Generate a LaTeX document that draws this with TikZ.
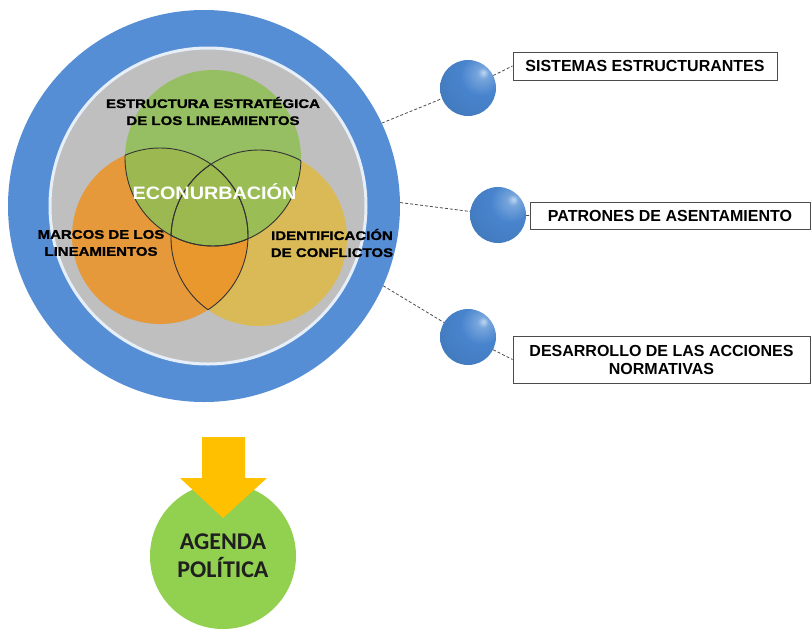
\documentclass[tikz,border=0pt]{standalone}
\usepackage{fontspec}
\setmainfont{Liberation Sans}
\newfontfamily\calibri{Carlito}
\newfontfamily\widefont[FakeStretch=1.2, FakeBold=1.2]{Liberation Sans}
\newfontfamily\midwidefont[FakeStretch=1.1]{Liberation Sans}
\usepackage{xcolor}
\usepackage{tikz}
\usetikzlibrary{positioning}

\definecolor{ringblue}{RGB}{85,142,213}
\definecolor{innergray}{RGB}{191,191,191}
\definecolor{venngreen}{RGB}{145,190,85}
\definecolor{vennorange}{RGB}{236,148,40}
\definecolor{vennyellow}{RGB}{222,186,72}
\definecolor{sphmain}{RGB}{72,132,205}
\definecolor{sphhigh}{RGB}{190,215,242}
\definecolor{arrowgold}{RGB}{255,192,0}
\definecolor{agendagreen}{RGB}{146,208,80}

\pgfdeclareradialshading{sphere}{\pgfpoint{14bp}{14bp}}{%
  color(0bp)=(sphhigh); color(5bp)=(sphmain!60!sphhigh); color(18bp)=(sphmain);
  color(50bp)=(sphmain!88!black); color(66bp)=(sphmain!72!black); color(100bp)=(sphmain!72!black)}

\begin{document}
\begin{tikzpicture}[x=1pt, y=-1pt,
  venn/.style={circle, minimum size=176pt, inner sep=0pt, fill opacity=0.87},
  lbl/.style={font=\widefont\bfseries\fontsize{12.5}{17}\selectfont, align=center},
  ball/.style={circle, minimum size=56pt, inner sep=0pt, shading=sphere},
  tagbox/.style={draw=black!70, line width=1pt, fill=white, font=\bfseries\fontsize{16}{18}\selectfont, align=center, inner sep=0pt},
  link/.style={densely dashed, black!70, line width=0.8pt}
]
\useasboundingbox (0,0) rectangle (812,633);

% outer rings
\node[circle, fill=ringblue, minimum size=392pt, inner sep=0pt] (outer) at (204,206) {};
\node[circle, fill=innergray, draw=white!85!ringblue, line width=3pt, minimum size=316pt, inner sep=0pt] (inner) at (208,206) {};

% venn circles
\node[venn, fill=vennyellow] (ident) at (259,238) {};
\node[venn, fill=vennorange] (marcos) at (160,236) {};
\node[venn, fill=venngreen] (estr) at (213,158) {};

% inner arcs
\begin{scope}
  \clip (marcos.center) circle[radius=88pt];
  \draw[black!80, line width=0.9pt] (estr.center) circle[radius=88pt];
  \draw[black!80, line width=0.9pt] (ident.center) circle[radius=88pt];
\end{scope}
\begin{scope}
  \clip (ident.center) circle[radius=88pt];
  \draw[black!80, line width=0.9pt] (estr.center) circle[radius=88pt];
  \draw[black!80, line width=0.9pt] (marcos.center) circle[radius=88pt];
\end{scope}
\begin{scope}
  \clip (estr.center) circle[radius=88pt];
  \draw[black!80, line width=0.9pt] (marcos.center) circle[radius=88pt];
  \draw[black!80, line width=0.9pt] (ident.center) circle[radius=88pt];
\end{scope}

% labels
\node[lbl] (estrlbl) at (213,111) {ESTRUCTURA ESTRATÉGICA\\DE LOS LINEAMIENTOS};
\node[lbl] (marcoslbl) at (101,243) {MARCOS DE LOS\\LINEAMIENTOS};
\node[lbl] (identlbl) at (332,243) {IDENTIFICACIÓN\\DE CONFLICTOS};
\node[font=\midwidefont\bfseries\fontsize{18}{20}\selectfont, text=white] (econ) at (214.5,192) {ECONURBACIÓN};

% spheres and boxes
\node[ball] (s1) at (468,88) {};
\node[ball] (s2) at (498,215) {};
\node[ball] (s3) at (468,337) {};
\node[tagbox, minimum width=264pt, minimum height=28pt] (sist) at (645,66) {SISTEMAS ESTRUCTURANTES};
\node[tagbox, minimum width=280pt, minimum height=27pt] (patr) at (670,215.5) {PATRONES DE ASENTAMIENTO};
\node[tagbox, minimum width=297pt, minimum height=47pt] (desa) at (661.5,359.5) {DESARROLLO DE LAS ACCIONES\\NORMATIVAS};

\draw[link] (outer.25) -- (s1);
\draw[link] (s1) -- (sist.west);
\draw[link] (outer.1) -- (s2);
\draw[link] (s2) -- (patr.west);
\draw[link] (outer.-24) -- (s3);
\draw[link] (s3) -- (desa.west);

% agenda
\node[circle, fill=agendagreen, minimum size=146pt, inner sep=0pt, font=\calibri\bfseries\fontsize{24}{28}\selectfont, text=black!88, align=center] (agenda) at (223,556) {AGENDA\\POLÍTICA};
\fill[arrowgold] (202,437) -- (245,437) -- (245,478) -- (267,478) -- (223,518) -- (180,478) -- (202,478) -- cycle;
\end{tikzpicture}
\end{document}
